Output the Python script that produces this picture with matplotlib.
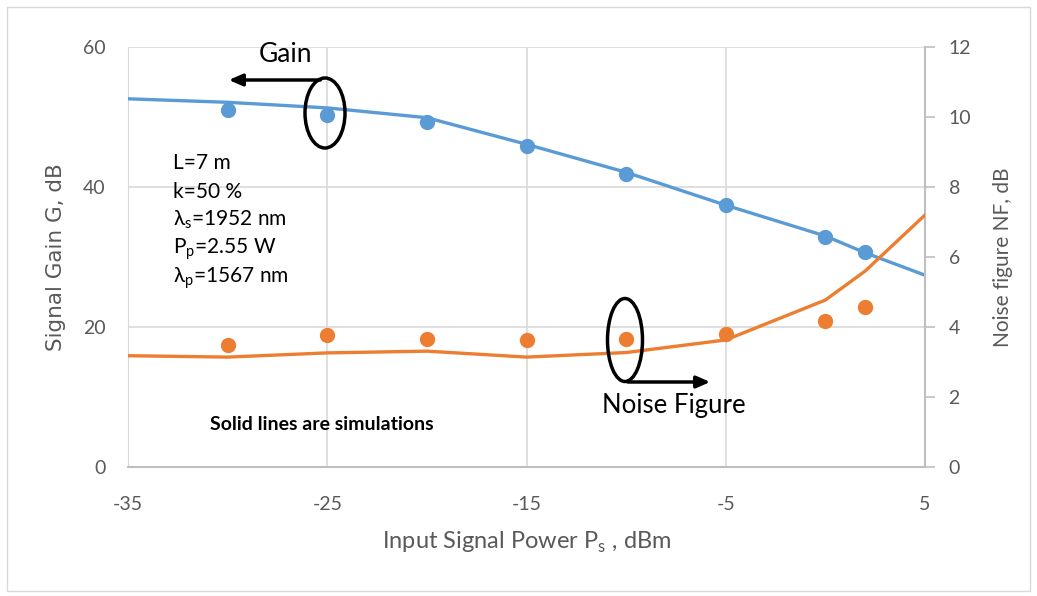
import matplotlib
matplotlib.use("Agg")
import matplotlib.pyplot as plt
from matplotlib.patches import Ellipse, Rectangle

plt.rcParams['font.family'] = ['Lato', 'DejaVu Sans']
plt.rcParams['axes.unicode_minus'] = False

# Data
gain_meas_x = [-30, -25, -20, -15, -10, -5, 0, 2]
gain_meas_y = [51.0, 50.3, 49.3, 45.9, 41.9, 37.4, 32.9, 30.7]
gain_sim_x = [-35, -30, -25, -20, -15, -10, -5, 0, 2, 5]
gain_sim_y = [52.6, 52.1, 51.3, 49.9, 46.1, 42.1, 37.4, 33.0, 30.6, 27.4]

nf_meas_x = [-30, -25, -20, -15, -10, -5, 0, 2]
nf_meas_y = [3.49, 3.77, 3.66, 3.64, 3.66, 3.79, 4.17, 4.57]
nf_sim_x = [-35, -30, -25, -20, -15, -10, -5, 0, 2, 5]
nf_sim_y = [3.18, 3.14, 3.26, 3.31, 3.14, 3.27, 3.63, 4.77, 5.6, 7.2]

x_ticks = [-35, -25, -15, -5, 5]
gain_ticks = [0, 20, 40, 60]
nf_ticks = [0, 2, 4, 6, 8, 10, 12]

params = ["L=7 m", "k=50 %", r"λ$_\mathregular{s}$=1952 nm",
          r"P$_\mathregular{p}$=2.55 W", r"λ$_\mathregular{p}$=1567 nm"]

blue = '#5B9BD5'
orange = '#ED7D31'
grey = '#595959'
grid = '#D9D9D9'

fig = plt.figure(figsize=(10.37, 5.96), dpi=100)
fig.patches.append(Rectangle((7/1037, 5/596), 1 - 14/1037, 1 - 12/596, transform=fig.transFigure,
                             fill=False, edgecolor='#D9D9D9', linewidth=1))
ax = fig.add_axes([128/1037, 1 - 467/596, (925 - 128)/1037, (467 - 47)/596])
ax2 = ax.twinx()

ax.set_xlim(-35, 5)
ax.set_ylim(0, 60)
ax2.set_ylim(0, 12)
ax.set_xticks(x_ticks)
ax.set_yticks(gain_ticks)
ax2.set_yticks(nf_ticks)

for a in (ax, ax2):
    for s in a.spines.values():
        s.set_visible(False)
ax.grid(True, color=grid, linewidth=1.2)
ax.set_axisbelow(True)
ax.spines['bottom'].set_visible(True)
ax.spines['bottom'].set_color('#BFBFBF')
ax.spines['bottom'].set_linewidth(1.5)
ax.spines['left'].set_visible(True)
ax.spines['left'].set_color(grid)
ax2.spines['right'].set_visible(True)
ax2.spines['right'].set_color('#BFBFBF')
ax2.spines['right'].set_linewidth(1.5)

ax.tick_params(axis='y', length=0, labelsize=14, labelcolor=grey, pad=16)
ax.tick_params(axis='x', length=0, labelsize=14, labelcolor=grey, pad=21)
ax2.tick_params(axis='y', length=7, width=1.2, color='#BFBFBF', labelsize=14, labelcolor=grey, pad=10)

ax.plot(gain_sim_x, gain_sim_y, color=blue, linewidth=2.4, zorder=3)
ax.plot(gain_meas_x, gain_meas_y, 'o', color=blue, markersize=10, zorder=4)
ax2.plot(nf_sim_x, nf_sim_y, color=orange, linewidth=2.4, zorder=3)
ax2.plot(nf_meas_x, nf_meas_y, 'o', color=orange, markersize=10, zorder=4)

ax.set_xlabel(r"Input Signal Power P$_\mathregular{s}$ , dBm", fontsize=17, color=grey, labelpad=12)
ax.set_ylabel("Signal Gain G, dB", fontsize=15.5, color=grey, family='DejaVu Sans', labelpad=12)
ax2.set_ylabel("Noise figure NF, dB", fontsize=15, color=grey, labelpad=16)

# Annotations (on top axis)
top = ax2
def d(px, py):
    return ((px - 128) / 19.925 - 35, (467 - py) / 35.0)

top.add_patch(Ellipse(d(325, 113), 40/19.925, 70/35.0, fill=False, edgecolor='black', linewidth=2.5, zorder=6))
top.annotate("", xy=d(226, 80), xytext=d(323, 80),
             arrowprops=dict(arrowstyle='-|>,head_length=0.8,head_width=0.35', color='black', lw=2.5), zorder=6)
top.text(*d(285, 55), "Gain", fontsize=19, ha='center', va='center', color='black', zorder=6)

top.add_patch(Ellipse(d(625, 340), 35/19.925, 83/35.0, fill=False, edgecolor='black', linewidth=2.5, zorder=6))
top.annotate("", xy=d(713, 382), xytext=d(625, 382),
             arrowprops=dict(arrowstyle='-|>,head_length=0.8,head_width=0.35', color='black', lw=2.5), zorder=6)
top.text(*d(674, 405), "Noise Figure", fontsize=18.5, ha='center', va='center', color='black', zorder=6)

ys = [163, 192, 220, 249, 278]
for t, py in zip(params, ys):
    top.text(*d(173, py), t, fontsize=15, ha='left', va='center', color='black', zorder=6)

top.text(*d(322, 424), "Solid lines are simulations", fontsize=14, fontweight='bold',
         ha='center', va='center', color='black', zorder=6)

fig.savefig("out.png", dpi=100)
